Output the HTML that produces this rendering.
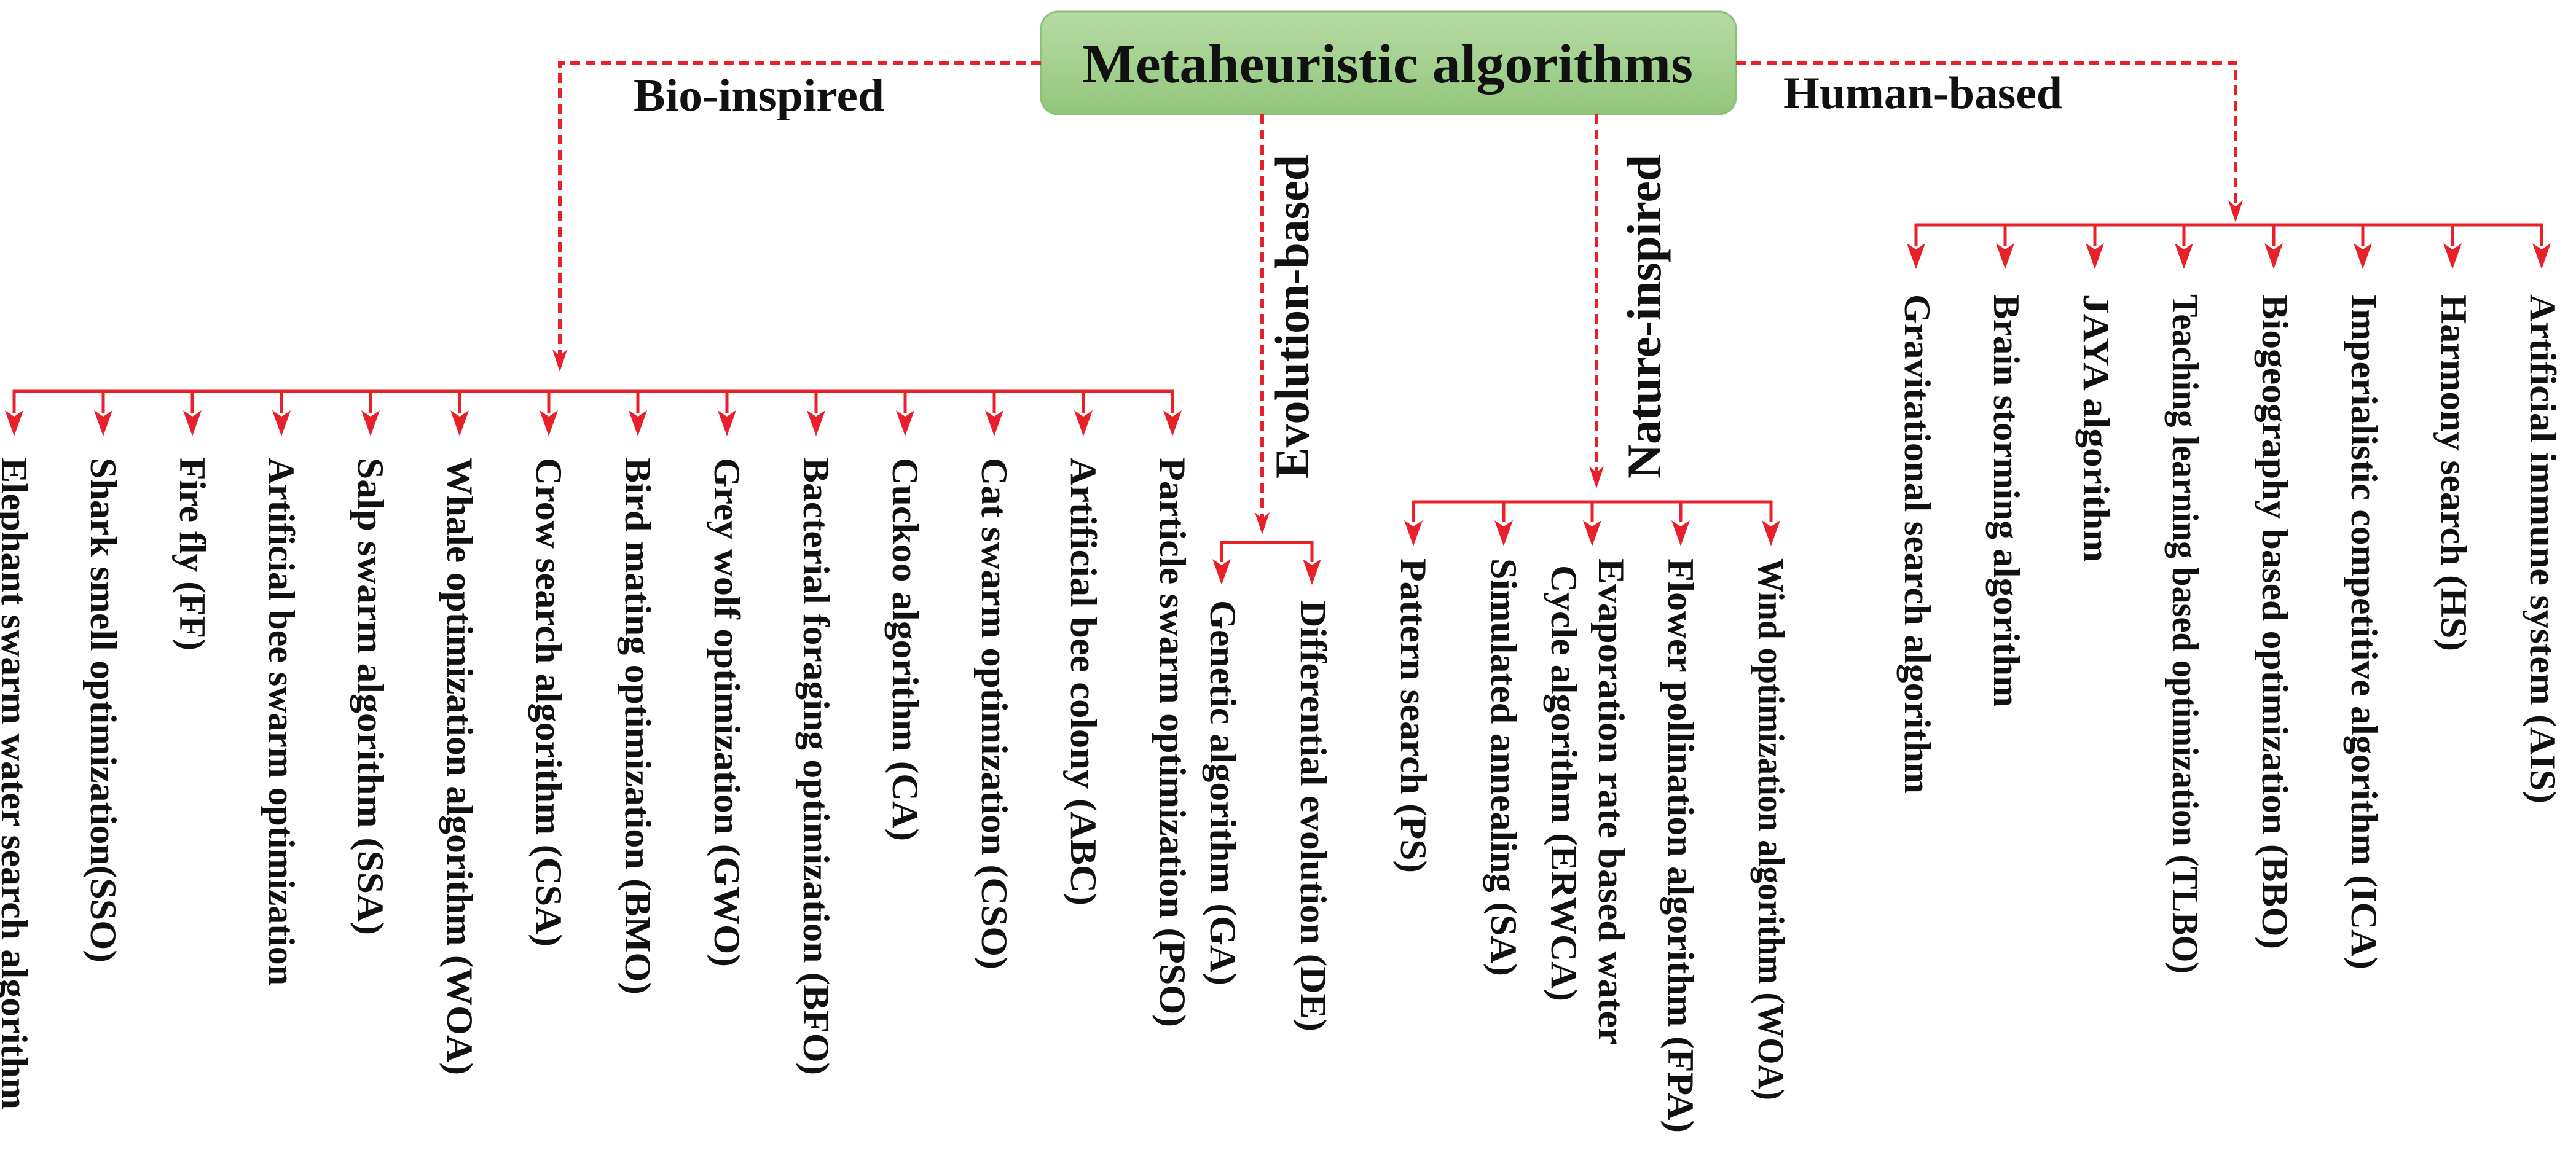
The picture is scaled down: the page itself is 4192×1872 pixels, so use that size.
<!DOCTYPE html>
<html><head><meta charset="utf-8"><style>
html,body{margin:0;padding:0;background:#fff;}
svg{display:block;}
text{font-family:"Liberation Serif","DejaVu Serif",serif;font-weight:bold;fill:#111;}
</style></head><body>
<svg width="4192" height="1872" viewBox="0 0 4192 1872" xmlns="http://www.w3.org/2000/svg">
<defs>
<linearGradient id="g" x1="0" y1="0" x2="0" y2="1"><stop offset="0" stop-color="#b6dba4"/><stop offset="1" stop-color="#92c67c"/></linearGradient>
<g id="ah"><polygon points="-15,-40 0,-30 15,-40 0,2" fill="#e8202a"/></g>
<g id="dh"><polygon points="-12,-34 0,-24 12,-34 0,2" fill="#e8202a"/></g>
</defs>
<rect x="1694" y="19" width="1131" height="167" rx="28" fill="url(#g)" stroke="#8cbf78" stroke-width="3"/>
<text x="1761" y="134" font-size="90" textLength="994" lengthAdjust="spacingAndGlyphs">Metaheuristic algorithms</text>

<g fill="none" stroke="#e8202a" stroke-width="6" stroke-dasharray="16,9">
<path d="M1694 102 H911 V598"/>
<path d="M2825 102 H3638 V355"/>
<path d="M2054 186 V862"/>
<path d="M2598 186 V788"/>
</g>
<use href="#dh" x="911" y="603"/>
<use href="#dh" x="3638" y="360"/>
<use href="#dh" x="2054" y="868"/>
<use href="#dh" x="2598" y="793"/>

<text x="1031" y="180" font-size="74" textLength="408" lengthAdjust="spacingAndGlyphs">Bio-inspired</text>
<text x="2902" y="176" font-size="74" textLength="454" lengthAdjust="spacingAndGlyphs">Human-based</text>
<text transform="translate(2129,779) rotate(-90)" font-size="78" textLength="527" lengthAdjust="spacingAndGlyphs">Evolution-based</text>
<text transform="translate(2702,779) rotate(-90)" font-size="78" textLength="527" lengthAdjust="spacingAndGlyphs">Nature-inspired</text>

<g fill="none" stroke="#e8202a" stroke-width="5">
<path d="M23 672 V637 H1908 V672"/>
<path d="M168 637 V672 M313 637 V672 M458 637 V672 M603 637 V672 M748 637 V672 M893 637 V672 M1038 637 V672 M1183 637 V672 M1328 637 V672 M1473 637 V672 M1618 637 V672 M1763 637 V672"/>
<path d="M3118 400 V366 H4136 V400"/>
<path d="M3263 366 V400 M3409 366 V400 M3554 366 V400 M3700 366 V400 M3845 366 V400 M3991 366 V400"/>
<path d="M1988 915 V883 H2135 V915"/>
<path d="M2300 850 V817 H2882 V850 M2447 817 V850 M2591 817 V850 M2735 817 V850"/>
</g>
<g>
<use href="#ah" x="23" y="708"/><use href="#ah" x="168" y="708"/><use href="#ah" x="313" y="708"/><use href="#ah" x="458" y="708"/><use href="#ah" x="603" y="708"/><use href="#ah" x="748" y="708"/><use href="#ah" x="893" y="708"/><use href="#ah" x="1038" y="708"/><use href="#ah" x="1183" y="708"/><use href="#ah" x="1328" y="708"/><use href="#ah" x="1473" y="708"/><use href="#ah" x="1618" y="708"/><use href="#ah" x="1763" y="708"/><use href="#ah" x="1908" y="708"/>
<use href="#ah" x="3118" y="436"/><use href="#ah" x="3263" y="436"/><use href="#ah" x="3409" y="436"/><use href="#ah" x="3554" y="436"/><use href="#ah" x="3700" y="436"/><use href="#ah" x="3845" y="436"/><use href="#ah" x="3991" y="436"/><use href="#ah" x="4136" y="436"/>
<use href="#ah" x="1988" y="950"/><use href="#ah" x="2135" y="950"/>
<use href="#ah" x="2300" y="887"/><use href="#ah" x="2447" y="887"/><use href="#ah" x="2591" y="887"/><use href="#ah" x="2735" y="887"/><use href="#ah" x="2882" y="887"/>
</g>

<g font-size="60" dominant-baseline="central" lengthAdjust="spacingAndGlyphs">
<text transform="translate(23,745) rotate(90)" textLength="1061" lengthAdjust="spacingAndGlyphs">Elephant swarm water search algorithm</text>
<text transform="translate(168,745) rotate(90)" textLength="822" lengthAdjust="spacingAndGlyphs">Shark smell optimization(SSO)</text>
<text transform="translate(313,745) rotate(90)" textLength="314" lengthAdjust="spacingAndGlyphs">Fire fly (FF)</text>
<text transform="translate(458,745) rotate(90)" textLength="859" lengthAdjust="spacingAndGlyphs">Artificial bee swarm optimization</text>
<text transform="translate(603,745) rotate(90)" textLength="777" lengthAdjust="spacingAndGlyphs">Salp swarm algorithm (SSA)</text>
<text transform="translate(748,745) rotate(90)" textLength="1005" lengthAdjust="spacingAndGlyphs">Whale optimization algorithm (WOA)</text>
<text transform="translate(893,745) rotate(90)" textLength="796" lengthAdjust="spacingAndGlyphs">Crow search algorithm (CSA)</text>
<text transform="translate(1038,745) rotate(90)" textLength="874" lengthAdjust="spacingAndGlyphs">Bird mating optimization (BMO)</text>
<text transform="translate(1183,745) rotate(90)" textLength="829" lengthAdjust="spacingAndGlyphs">Grey wolf optimization (GWO)</text>
<text transform="translate(1328,745) rotate(90)" textLength="1005" lengthAdjust="spacingAndGlyphs">Bacterial foraging optimization (BFO)</text>
<text transform="translate(1473,745) rotate(90)" textLength="624" lengthAdjust="spacingAndGlyphs">Cuckoo algorithm (CA)</text>
<text transform="translate(1618,745) rotate(90)" textLength="833" lengthAdjust="spacingAndGlyphs">Cat swarm optimization (CSO)</text>
<text transform="translate(1763,745) rotate(90)" textLength="729" lengthAdjust="spacingAndGlyphs">Artificial bee colony (ABC)</text>
<text transform="translate(1908,745) rotate(90)" textLength="927" lengthAdjust="spacingAndGlyphs">Particle swarm optimization (PSO)</text>

<text transform="translate(1990,977) rotate(90)" textLength="627" lengthAdjust="spacingAndGlyphs">Genetic algorithm (GA)</text>
<text transform="translate(2137,977) rotate(90)" textLength="702" lengthAdjust="spacingAndGlyphs">Differential evolution (DE)</text>

<text transform="translate(2300,909) rotate(90)" textLength="512" lengthAdjust="spacingAndGlyphs">Pattern search (PS)</text>
<text transform="translate(2447,909) rotate(90)" textLength="680" lengthAdjust="spacingAndGlyphs">Simulated annealing (SA)</text>
<text transform="translate(2622,909) rotate(90)" textLength="792" lengthAdjust="spacingAndGlyphs">Evaporation rate based water</text>
<text transform="translate(2545,920) rotate(90)" textLength="710" lengthAdjust="spacingAndGlyphs">Cycle algorithm (ERWCA)</text>
<text transform="translate(2735,909) rotate(90)" textLength="935" lengthAdjust="spacingAndGlyphs">Flower pollination algorithm (FPA)</text>
<text transform="translate(2882,909) rotate(90)" textLength="882" lengthAdjust="spacingAndGlyphs">Wind optimization algorithm (WOA)</text>

<text transform="translate(3120,479) rotate(90)" textLength="813" lengthAdjust="spacingAndGlyphs">Gravitational search algorithm</text>
<text transform="translate(3265,479) rotate(90)" textLength="672" lengthAdjust="spacingAndGlyphs">Brain storming algorithm</text>
<text transform="translate(3411,479) rotate(90)" textLength="436" lengthAdjust="spacingAndGlyphs">JAYA algorithm</text>
<text transform="translate(3556,479) rotate(90)" textLength="1106" lengthAdjust="spacingAndGlyphs">Teaching learning based optimization (TLBO)</text>
<text transform="translate(3702,479) rotate(90)" textLength="1066" lengthAdjust="spacingAndGlyphs">Biogeography based optimization (BBO)</text>
<text transform="translate(3847,479) rotate(90)" textLength="1099" lengthAdjust="spacingAndGlyphs">Imperialistic competitive algorithm (ICA)</text>
<text transform="translate(3993,479) rotate(90)" textLength="581" lengthAdjust="spacingAndGlyphs">Harmony search (HS)</text>
<text transform="translate(4138,479) rotate(90)" textLength="829" lengthAdjust="spacingAndGlyphs">Artificial immune system (AIS)</text>
</g>
</svg>
</body></html>
